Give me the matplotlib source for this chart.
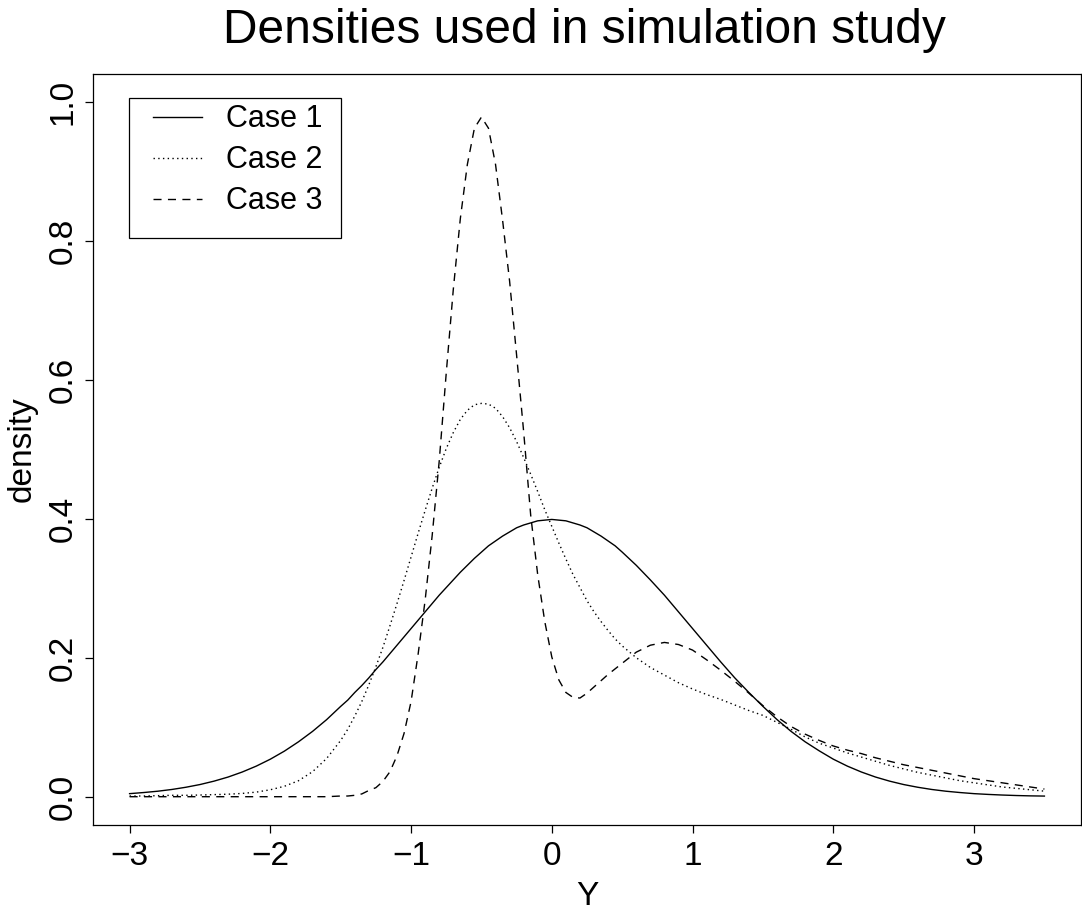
import matplotlib
matplotlib.use("Agg")
import matplotlib.pyplot as plt
from matplotlib.patches import Rectangle

plt.rcParams['font.family'] = ['Liberation Sans', 'DejaVu Sans']

# values
y_grid = [-3.0, -2.9, -2.8, -2.7, -2.6, -2.5, -2.4, -2.3, -2.2, -2.1,
          -2.0, -1.9, -1.8, -1.7, -1.6,
          -1.5, -1.45, -1.4, -1.35, -1.3, -1.25, -1.2, -1.15, -1.1, -1.05,
          -1.0, -0.95, -0.9, -0.85, -0.8, -0.75, -0.7, -0.65, -0.6, -0.55,
          -0.5, -0.45, -0.4, -0.35, -0.3, -0.25, -0.2, -0.15, -0.1, -0.05,
          0.0, 0.05, 0.1, 0.15, 0.2, 0.25, 0.3, 0.35, 0.4, 0.45, 0.5,
          0.6, 0.7, 0.8, 0.9, 1.0, 1.1, 1.2, 1.3, 1.4, 1.5, 1.6, 1.7, 1.8, 1.9,
          2.0, 2.1, 2.2, 2.3, 2.4, 2.5, 2.6, 2.7, 2.8, 2.9,
          3.0, 3.1, 3.2, 3.3, 3.4, 3.5]

case1 = [0.0044, 0.0060, 0.0079, 0.0104, 0.0136, 0.0175, 0.0224, 0.0283, 0.0355, 0.0440,
         0.0540, 0.0656, 0.0790, 0.0940, 0.1109,
         0.130, 0.139, 0.150, 0.160, 0.171, 0.183, 0.194, 0.206, 0.218, 0.230,
         0.242, 0.254, 0.266, 0.278, 0.290, 0.301, 0.312, 0.323, 0.333, 0.343,
         0.352, 0.361, 0.368, 0.375, 0.381, 0.387, 0.391, 0.394, 0.397, 0.398,
         0.399, 0.398, 0.397, 0.394, 0.391, 0.387, 0.381, 0.375, 0.368, 0.361, 0.352,
         0.333, 0.312, 0.290, 0.266, 0.242, 0.218, 0.194, 0.171, 0.150, 0.130, 0.111, 0.094, 0.079, 0.066,
         0.0540, 0.0440, 0.0355, 0.0283, 0.0224, 0.0175, 0.0136, 0.0104, 0.0079, 0.0060,
         0.0044, 0.0033, 0.0024, 0.0017, 0.0012, 0.0009]

case2 = [0.001, 0.001, 0.0015, 0.002, 0.002, 0.0024, 0.003, 0.0036, 0.0047, 0.0066,
         0.010, 0.015, 0.023, 0.036, 0.055,
         0.081, 0.097, 0.116, 0.137, 0.161, 0.187, 0.215, 0.246, 0.278, 0.311,
         0.345, 0.379, 0.412, 0.444, 0.474, 0.501, 0.524, 0.543, 0.556, 0.564,
         0.566, 0.565, 0.559, 0.547, 0.531, 0.511, 0.488, 0.464, 0.439, 0.413,
         0.389, 0.365, 0.342, 0.320, 0.301, 0.282, 0.266, 0.252, 0.239, 0.227, 0.217,
         0.200, 0.186, 0.175, 0.164, 0.155, 0.147, 0.140, 0.132, 0.124, 0.117, 0.107, 0.097, 0.086, 0.077,
         0.070, 0.063, 0.057, 0.051, 0.045, 0.040, 0.035, 0.031, 0.027, 0.023,
         0.020, 0.017, 0.014, 0.012, 0.010, 0.008]

case3 = [0.000, 0.000, 0.000, 0.000, 0.000, 0.000, 0.000, 0.000, 0.000, 0.000,
         0.000, 0.000, 0.000, 0.000, 0.000,
         0.001, 0.001, 0.002, 0.004, 0.009, 0.013, 0.022, 0.036, 0.059, 0.091,
         0.137, 0.205, 0.283, 0.376, 0.483, 0.610, 0.730, 0.832, 0.910, 0.962,
         0.978, 0.962, 0.910, 0.830, 0.742, 0.635, 0.525, 0.405, 0.319, 0.252,
         0.201, 0.168, 0.150, 0.143, 0.142, 0.149, 0.158, 0.167, 0.176, 0.184, 0.192,
         0.208, 0.218, 0.222, 0.219, 0.211, 0.197, 0.182, 0.166, 0.149, 0.131, 0.115, 0.101, 0.090, 0.081,
         0.073, 0.067, 0.062, 0.056, 0.051, 0.046, 0.042, 0.038, 0.034, 0.030,
         0.026, 0.023, 0.020, 0.017, 0.014, 0.011]

labels = ['Case 1', 'Case 2', 'Case 3']
x_ticks = [-3, -2, -1, 0, 1, 2, 3]
y_ticks = [0.0, 0.2, 0.4, 0.6, 0.8, 1.0]

W, H = 1082, 911
fig = plt.figure(figsize=(W / 100, H / 100), dpi=100)
ax = fig.add_axes([93 / W, 1 - 824.5 / H, 988 / W, 750.5 / H])

lw = 1.0
ax.plot(y_grid, case1, color='black', lw=lw, linestyle='-', label=labels[0])
ax.plot(y_grid, case2, color='black', lw=lw, linestyle=(0, (1.0, 2.4)), label=labels[1])
ax.plot(y_grid, case3, color='black', lw=lw, linestyle=(0, (5.8, 4.6)), label=labels[2])

ax.set_xlim(-3.26, 3.76)
ax.set_ylim(-0.04, 1.04)
ax.set_xticks(x_ticks)
ax.set_xticklabels([str(t).replace('-', '\u2212') for t in x_ticks])
ax.set_yticks(y_ticks)
ax.set_yticklabels(['%.1f' % t for t in y_ticks])

ax.tick_params(axis='both', direction='out', length=5.8, width=0.9, labelsize=24, color='black')
ax.tick_params(axis='x', pad=6)
ax.tick_params(axis='y', pad=4.5, labelrotation=90)
for lab in ax.get_yticklabels():
    lab.set_va('center')
for sp in ax.spines.values():
    sp.set_linewidth(0.9)
    sp.set_color('black')

ax.set_xlabel('Y', fontsize=24)
ax.xaxis.set_label_coords(0.5, -0.075)
ax.set_ylabel('density', fontsize=24)
ax.yaxis.set_label_coords(-0.0557, 0.5)

fig.text(584 / W, 1 - 43 / H, 'Densities used in simulation study', fontsize=34.5,
         ha='center', va='baseline')

leg = ax.legend(loc='upper left', bbox_to_anchor=(153 / W, 1 - 104.2 / H),
                bbox_transform=fig.transFigure, frameon=False, fontsize=22,
                borderpad=0, borderaxespad=0, handlelength=1.6, handletextpad=0.78,
                labelspacing=0.36)
fig.patches.append(Rectangle((129.3 / W, 1 - 237.7 / H), 211.4 / W, 140 / H,
                             transform=fig.transFigure, fill=False,
                             edgecolor='black', linewidth=0.9))

fig.savefig('out.png', dpi=100)
